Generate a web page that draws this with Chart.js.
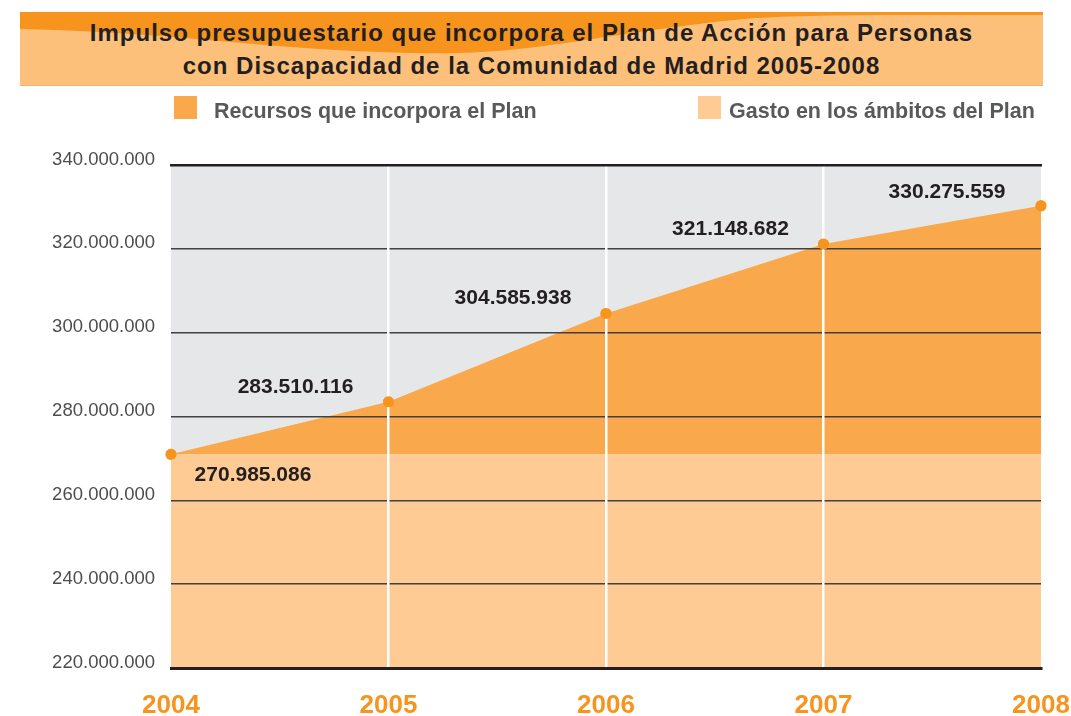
<!DOCTYPE html>
<html>
<head>
<meta charset="utf-8">
<script src="https://cdn.jsdelivr.net/npm/chart.js@4.4.1/dist/chart.umd.min.js"></script>
<style>
  html, body { margin: 0; padding: 0; background: #ffffff; }
  #wrap { position: relative; width: 1071px; height: 716px; overflow: hidden; font-family: "Liberation Sans", Arial, Helvetica, sans-serif; }
  #chart { position: absolute; left: 0; top: 0; }
  #banner { position: absolute; left: 20px; top: 12px; width: 1023px; height: 74px; }
  #banner svg { position: absolute; left: 0; top: 0; }
  #title { position: absolute; left: 0; top: 4px; width: 1023px; text-align: center; font-weight: bold; font-size: 24px; line-height: 33px; color: #231f20; letter-spacing: 1px; }
  .leg { position: absolute; top: 96px; height: 23px; }
  .leg .sw { position: absolute; left: 0; top: 0; width: 23px; height: 23px; }
  .leg .tx { position: absolute; top: 1px; white-space: nowrap; font-weight: bold; font-size: 21.5px; line-height: 28px; color: #58595b; }
</style>
</head>
<body>
<div id="wrap">
  <canvas id="chart" width="1071" height="716"></canvas>
  <div id="banner">
    <svg width="1023" height="74" viewBox="0 0 1023 74">
      <rect x="0" y="0" width="1023" height="74" fill="#fdc07a"/>
      <path d="M0,17 C150,20 250,38 392,41 C520,44 580,20 735,6 C800,2 900,3 1023,3 V0 H0 Z" fill="#f7941d"/>
      <rect x="0" y="73" width="1023" height="1" fill="#f9b466"/>
    </svg>
    <div id="title">Impulso presupuestario que incorpora el Plan de Acción para Personas<br>con Discapacidad de la Comunidad de Madrid 2005-2008</div>
  </div>
  <div class="leg" style="left:174px;"><div class="sw" style="background:#f9a94b"></div><div class="tx" style="left:40px">Recursos que incorpora el Plan</div></div>
  <div class="leg" style="left:698px;"><div class="sw" style="background:#fdcb93"></div><div class="tx" style="left:31px">Gasto en los ámbitos del Plan</div></div>
</div>
<script>
// ---- data ----
const years = ['2004', '2005', '2006', '2007', '2008'];
const recursos = [270985086, 283510116, 304585938, 321148682, 330275559];
const gastoBase = [270985086, 270985086, 270985086, 270985086, 270985086];
const yTickValues = [220000000, 240000000, 260000000, 280000000, 300000000, 320000000, 340000000];
const seriesNames = ['Recursos que incorpora el Plan', 'Gasto en los ámbitos del Plan'];

// ---- styles ----
const FONT = '"Liberation Sans", Arial, Helvetica, sans-serif';
const labelOffsets = [[82, 21], [-93, -15], [-93, -15], [-93, -15], [-94, -14]];

function fmt(n) {
  return String(Math.round(n)).replace(/\B(?=(\d{3})+(?!\d))/g, '.');
}

const plotBg = {
  id: 'plotBg',
  beforeDraw(chart) {
    const a = chart.chartArea, c = chart.ctx;
    c.save();
    c.fillStyle = '#e6e7e8';
    c.fillRect(a.left, a.top, a.right - a.left, a.bottom - a.top);
    c.restore();
  }
};

const topMarks = {
  id: 'topMarks',
  afterDraw(chart) {
    const c = chart.ctx;
    const meta = chart.getDatasetMeta(1);
    c.save();
    meta.data.forEach(p => p.draw(c, chart.chartArea));
    c.font = 'bold 21px ' + FONT;
    c.fillStyle = '#231f20';
    c.textAlign = 'center';
    c.textBaseline = 'middle';
    meta.data.forEach((p, i) => {
      const o = labelOffsets[i];
      c.fillText(fmt(recursos[i]), p.x + o[0], p.y + o[1]);
    });
    c.restore();
  }
};

new Chart(document.getElementById('chart'), {
  type: 'line',
  data: {
    labels: years,
    datasets: [
      {
        label: seriesNames[1],
        data: gastoBase,
        fill: 'start',
        backgroundColor: '#fdcb93',
        borderWidth: 0,
        borderColor: 'rgba(0,0,0,0)',
        pointRadius: 0,
        tension: 0
      },
      {
        label: seriesNames[0],
        data: recursos,
        fill: '-1',
        backgroundColor: '#f9a94b',
        borderWidth: 0,
        borderColor: 'rgba(0,0,0,0)',
        pointRadius: 5.5,
        pointBackgroundColor: '#f7941d',
        pointBorderWidth: 0,
        pointBorderColor: '#f7941d',
        tension: 0
      }
    ]
  },
  options: {
    responsive: false,
    animation: false,
    events: [],
    layout: { padding: { top: 165, right: 30, left: 0, bottom: 0 } },
    plugins: { legend: { display: false }, tooltip: { enabled: false }, title: { display: false } },
    scales: {
      x: {
        type: 'category',
        offset: false,
        grid: {
          z: 2,
          drawTicks: false,
          lineWidth: 2.5,
          color: (ctx) => (ctx.index === 0 || ctx.index === years.length - 1) ? 'rgba(0,0,0,0)' : '#ffffff'
        },
        border: { display: true, color: '#231f20', width: 3, z: 3 },
        ticks: {
          z: 3,
          color: '#f7941d',
          font: { family: FONT, size: 26, weight: 'bold' },
          padding: 22,
          maxRotation: 0,
          autoSkip: false
        },
        afterFit: (s) => { s.height = 48; s.paddingLeft = 0; s.paddingRight = 0; }
      },
      x2: {
        type: 'category',
        labels: years,
        position: 'top',
        offset: false,
        grid: { display: false, drawTicks: false },
        border: { display: true, color: '#231f20', width: 2.5, z: 4 },
        ticks: { display: false },
        afterFit: (s) => { s.height = 0; s.paddingLeft = 0; s.paddingRight = 0; }
      },
      y: {
        min: 220000000,
        max: 340000000,
        afterBuildTicks: (axis) => { axis.ticks = yTickValues.map(v => ({ value: v })); },
        grid: {
          z: 1,
          drawTicks: false,
          color: '#414042',
          lineWidth: 1.5
        },
        border: { display: false },
        ticks: {
          color: '#4d4d4f',
          font: { family: FONT, size: 18.5, lineHeight: 0.6 },
          padding: 16,
          callback: (v) => [fmt(v), '']
        },
        afterFit: (s) => { s.width = 171; s.paddingTop = 0; s.paddingBottom = 0; }
      }
    }
  },
  plugins: [plotBg, topMarks]
});
</script>
</body>
</html>
